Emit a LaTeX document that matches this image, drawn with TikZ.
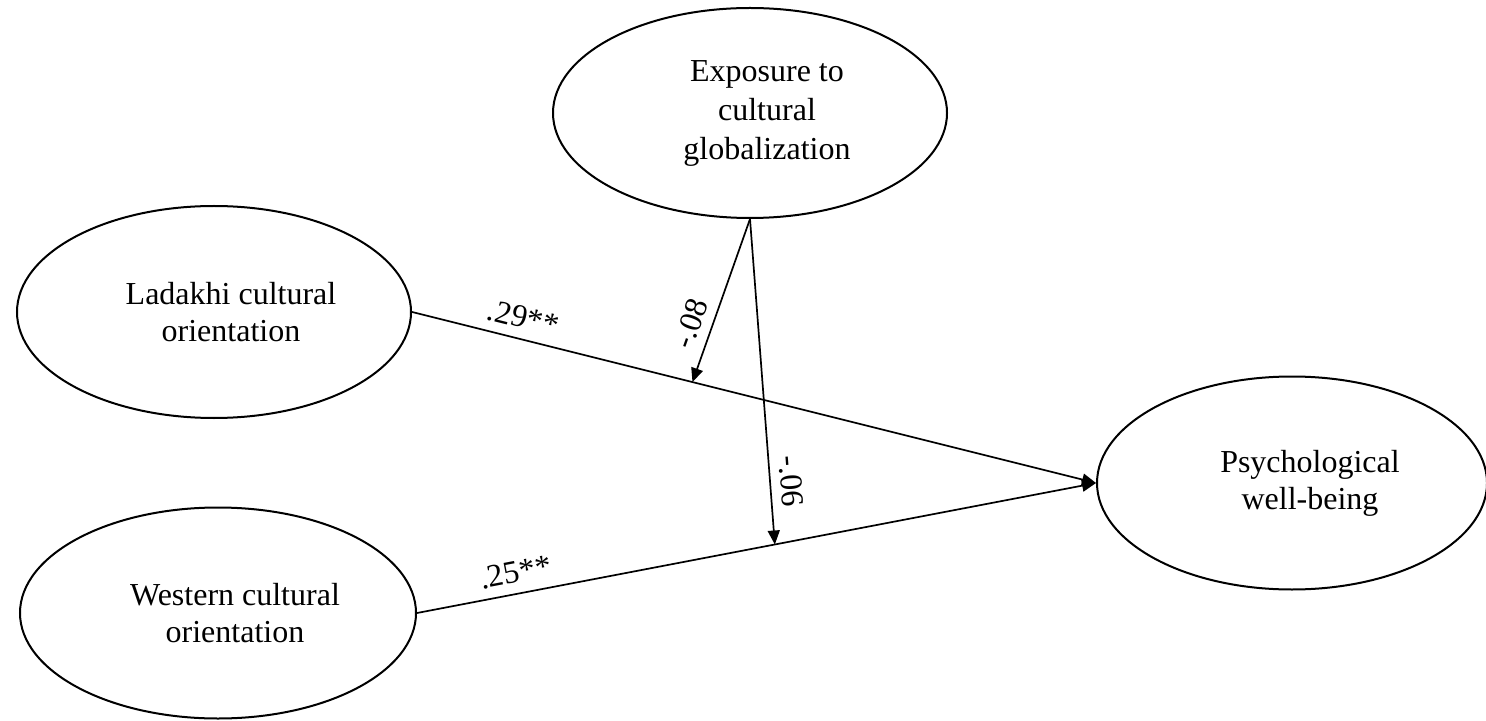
\documentclass[tikz,border=0pt]{standalone}
\usepackage{fontspec}
\setmainfont{Liberation Serif}
\usetikzlibrary{arrows.meta,shapes.geometric}

\tikzset{
  latent/.style={draw,ellipse,line width=1pt,inner sep=0pt},
  ltext/.style={font=\fontsize{16}{18.5}\selectfont,align=center,inner sep=0pt},
  path/.style={line width=0.85pt,-{Triangle[length=7pt,width=6pt]}},
  coef/.style={font=\fontsize{16}{18}\selectfont,sloped,above=1.5pt}
}

\begin{document}
\begin{tikzpicture}[x=0.5pt,y=-0.5pt]
  \useasboundingbox (0,0) rectangle (1486,721);
  % latent variables
  \node[latent,minimum width=197pt,minimum height=105pt] (expo) at (750,113) {};
  \node[latent,minimum width=197pt,minimum height=106pt] (lad) at (214,312) {};
  \node[latent,minimum width=198pt,minimum height=105.5pt] (wes) at (218,613) {};
  \node[latent,minimum width=195pt,minimum height=106.5pt] (psy) at (1292,483) {};
  \node[ltext,font=\fontsize{16}{19.5}\selectfont] (expotxt) at ([xshift=8.5pt]expo.center) {Exposure to\\cultural\\globalization};
  \node[ltext] (ladtxt) at ([xshift=8.5pt]lad.center) {Ladakhi cultural\\orientation};
  \node[ltext] (westxt) at ([xshift=8.5pt]wes.center) {Western cultural\\orientation};
  \node[ltext] (psytxt) at ([xshift=9pt]psy.center) {Psychological\\well-being};
  % direct paths
  \draw[path] (lad.east) -- coordinate[pos=0.41] (ladmid) node[coef,pos=0.155] {.29**} (psy.west);
  \draw[path] (wes.east) -- coordinate[pos=0.527] (wesmid) node[coef,pos=0.151] {.25**} (psy.west);
  % moderation
  \draw[path] (expo.south) -- node[coef,pos=0.685] {-.08} (ladmid);
  \draw[path] (expo.south) -- node[coef,pos=0.81] {-.06} (wesmid);
\end{tikzpicture}
\end{document}
